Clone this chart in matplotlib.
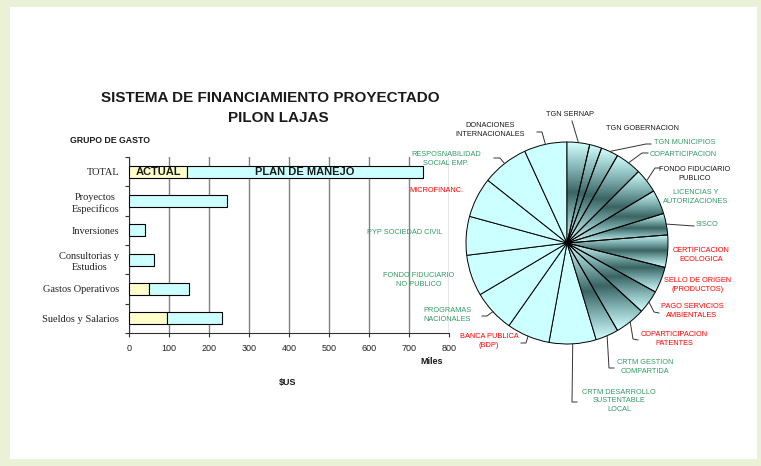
import numpy as np
import matplotlib
matplotlib.use('Agg')
import matplotlib.pyplot as plt
from matplotlib.colors import LinearSegmentedColormap
from matplotlib.patches import Rectangle
from matplotlib.lines import Line2D

# ---------------- datos: grupo de gasto (miles $US) ----------------
grupos = ['TOTAL', 'Proyectos\nEspecificos', 'Inversiones', 'Consultorias y\nEstudios',
          'Gastos Operativos', 'Sueldos y Salarios']
actual = [146, 0, 0, 0, 51, 95]
plan_manejo = [588, 246, 40, 63, 98, 138]
x_ticks = [0, 100, 200, 300, 400, 500, 600, 700, 800]

# ---------------- datos: fuentes de financiamiento (pie) ----------------
fuentes = ['TGN SERNAP', 'TGN GOBERNACION', 'TGN MUNICIPIOS', 'COPARTICIPACION',
           'FONDO FIDUCIARIO\nPUBLICO', 'LICENCIAS Y\nAUTORIZACIONES', 'SISCO',
           'CERTIFICACION\nECOLOGICA', 'SELLO DE ORIGEN\n(PRODUCTOS)', 'PAGO SERVICIOS\nAMBIENTALES',
           'COPARTICIPACION\nPATENTES', 'CRTM GESTION\nCOMPARTIDA', 'CRTM DESARROLLO\nSUSTENTABLE\nLOCAL',
           'BANCA PUBLICA\n(BDP)', 'PROGRAMAS\nNACIONALES', 'FONDO FIDUCIARIO\nNO PUBLICO',
           'PYP SOCIEDAD CIVIL', 'MICROFINANC.', 'RESPOSNABILIDAD\nSOCIAL EMP.',
           'DONACIONES\nINTERNACIONALES']
montos = [13, 7, 10, 15, 14, 14, 12.4, 18.6, 15, 13.5, 17.5, 13.2, 27.1,
          24.8, 24.2, 23.7, 22.3, 23.1, 26.9, 24.7]
tipo = ['k', 'k', 'g', 'g', 'k', 'g', 'g', 'r', 'r', 'r', 'r', 'g', 'g',
        'r', 'g', 'g', 'g', 'r', 'g', 'k']
sombreado = [True] * 12 + [False] * 8

# posicion de etiquetas (px) y puntos de la linea guia
etiqueta_pos = [(570, 114), (642, 128), (685, 143), (683, 155), (695, 174), (696, 197),
                (707, 225), (701, 255), (698, 285), (692, 311), (674, 339), (645, 367),
                (619, 401), (489, 341), (447, 315), (419, 280), (405, 232), (436, 190),
                (446, 159), (490, 130)]
guias = [[(572, 121)], None, [(646, 144), (651, 144)], [(642, 153), (648, 153)],
         [(655, 168), (660, 168)], None, [(694, 226)], None, None,
         [(654, 312), (659, 313)], [(633, 339), (638, 340)], [(609, 368), (614, 368)],
         [(572, 402), (577, 402)], [(526, 343), (521, 343)], [(487, 316), (482, 316)],
         None, None, None, [(500, 158), (494, 158)], [(542, 132), (537, 132)]]

W, H = 761, 466
SANS = ['Liberation Sans', 'DejaVu Sans']
SERIF = ['Liberation Serif', 'DejaVu Serif']
colores_txt = {'k': '#1a1a1a', 'g': '#339966', 'r': '#ff0000'}
CYAN = '#ccffff'
AMARILLO = '#ffffcc'


def fx(px):
    return px / W


def fy(py):
    return 1 - py / H


fig = plt.figure(figsize=(W / 100, H / 100), dpi=100, facecolor='#ebf1d6')
fig.add_artist(Rectangle((fx(10), fy(459)), fx(757) - fx(10), fy(7) - fy(459),
                         transform=fig.transFigure, facecolor='white', edgecolor='none', zorder=0))

# ---------------- barras ----------------
ax = fig.add_axes([fx(129), fy(333), fx(449) - fx(129), fy(157) - fy(333)])
pos = np.arange(len(grupos))
ax.barh(pos, actual, height=0.4, color=AMARILLO, edgecolor='black', linewidth=0.8, zorder=3)
ax.barh(pos, plan_manejo, left=actual, height=0.4, color=CYAN, edgecolor='black', linewidth=0.8, zorder=3)
ax.set_xlim(0, 800)
ax.set_ylim(len(grupos) - 0.5, -0.5)
ax.set_xticks(x_ticks)
ax.set_xticklabels([str(t) for t in x_ticks], family=SANS, fontsize=6.5, color='#222222')
ax.tick_params(axis='x', direction='out', length=3, pad=5, color='#333333')
ax.set_yticks(np.arange(len(grupos) + 1) - 0.5)
ax.set_yticklabels([])
ax.set_yticks(pos, minor=True)
ax.set_yticklabels(grupos, minor=True, family=SERIF, fontsize=7.5, color='#222222',
                   multialignment='center', linespacing=1.3)
ax.tick_params(axis='y', which='major', direction='out', length=3, color='#333333')
ax.tick_params(axis='y', which='minor', length=0, pad=7)
ax.xaxis.grid(True, color='#808080', linewidth=1)
ax.set_axisbelow(True)
for s in ['top', 'right']:
    ax.spines[s].set_visible(False)
for s in ['left', 'bottom']:
    ax.spines[s].set_color('#333333')

ax.text(actual[0] / 2, 0, 'ACTUAL', ha='center', va='center', fontsize=8, fontweight='bold',
        family=SANS, color='#1a1a1a', zorder=4)
ax.text(actual[0] + plan_manejo[0] / 2, 0, 'PLAN DE MANEJO', ha='center', va='center', fontsize=8,
        fontweight='bold', family=SANS, color='#1a1a1a', zorder=4)

# titulos
fig.text(fx(270), fy(98), 'SISTEMA DE FINANCIAMIENTO PROYECTADO', ha='center', va='center',
         fontsize=11, fontweight='bold', family=SANS, color='#1a1a1a')
fig.text(fx(278), fy(118), 'PILON LAJAS', ha='center', va='center',
         fontsize=11, fontweight='bold', family=SANS, color='#1a1a1a')
fig.text(fx(70), fy(140), 'GRUPO DE GASTO', ha='left', va='center',
         fontsize=6.3, fontweight='bold', family=SANS, color='#1a1a1a')
fig.text(fx(432), fy(362), 'Miles', ha='center', va='center',
         fontsize=6.5, fontweight='bold', family=SANS, color='#1a1a1a')
fig.text(fx(288), fy(383), '$US', ha='center', va='center',
         fontsize=6.5, fontweight='bold', family=SANS, color='#1a1a1a')

# ---------------- pie ----------------
CX, CY, R = 567, 243, 101
axp = fig.add_axes([fx(CX - R), fy(CY + R), fx(2 * R), 2 * R / H])
wedges, _ = axp.pie(montos, startangle=90, counterclock=False, colors=[CYAN] * len(montos),
                    wedgeprops=dict(edgecolor='black', linewidth=0.7))
axp.axis('off')

cmap = LinearSegmentedColormap.from_list('sombra', ['#d4ffff', '#86b6b6', '#3a6464', '#86b6b6', '#d4ffff'])
grad = np.linspace(0, 1, 256).reshape(-1, 1)
for w, sh in zip(wedges, sombreado):
    if not sh:
        continue
    ang = np.radians(np.linspace(w.theta1, w.theta2, 50))
    xs = np.concatenate([[0], np.cos(ang)])
    ys = np.concatenate([[0], np.sin(ang)])
    im = axp.imshow(grad, extent=(xs.min(), xs.max(), ys.min(), ys.max()), origin='lower',
                    cmap=cmap, aspect='auto', interpolation='bilinear', zorder=1)
    im.set_clip_path(w)
    w.set_facecolor('none')
    w.set_zorder(2)
axp.set_xlim(-1, 1)
axp.set_ylim(-1, 1)

# etiquetas y lineas guia
for w, nombre, t, (lx, ly), g in zip(wedges, fuentes, tipo, etiqueta_pos, guias):
    fig.text(fx(lx), fy(ly), nombre, ha='center', va='center', fontsize=5.3, family=SANS,
             color=colores_txt[t], multialignment='center', linespacing=1.3)
    if g is None:
        continue
    mid = np.radians((w.theta1 + w.theta2) / 2)
    pts = [(CX + R * np.cos(mid), CY - R * np.sin(mid))] + g
    fig.add_artist(Line2D([fx(p[0]) for p in pts], [fy(p[1]) for p in pts],
                          transform=fig.transFigure, color='#333333', linewidth=0.7))

plt.savefig('out.png', dpi=100, facecolor=fig.get_facecolor())
